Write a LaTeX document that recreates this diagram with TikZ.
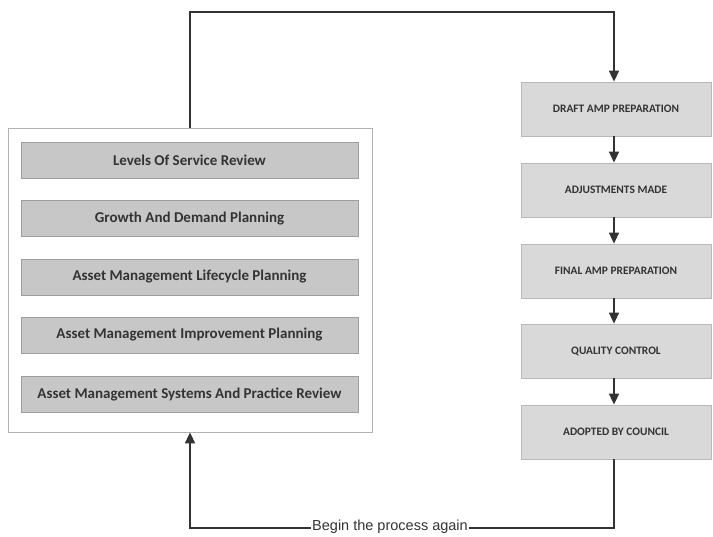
\documentclass[tikz,border=0pt]{standalone}
\usepackage{fontspec}
\setmainfont{Carlito}
\newfontfamily\labelfont{Liberation Sans}
\usetikzlibrary{arrows.meta,positioning}
\begin{document}
\begin{tikzpicture}[x=1pt,y=-1pt,
  planbox/.style={draw=black!38, fill=black!22, line width=0.8pt,
    minimum width=337pt, minimum height=36pt, inner sep=0pt,
    font=\fontsize{15}{17}\selectfont\bfseries, text=black!80},
  stagebox/.style={draw=black!28, fill=black!15, line width=0.8pt,
    minimum width=190pt, minimum height=54pt, inner sep=0pt,
    font=\fontsize{11.4}{13}\selectfont\bfseries, text=black!80},
  flow/.style={line width=1.6pt, black!80},
  tip/.style={-{Triangle[width=10pt,length=11pt]}}]
\useasboundingbox (0,0) rectangle (713,537);

% group of planning activities
\node[draw=black!30, line width=0.8pt, minimum width=364pt, minimum height=304pt,
  inner sep=0pt] (group) at (190,280) {};
\node[planbox] (los) at (189.5,160) {Levels Of Service Review};
\node[planbox] (gdp) at (189.5,218.5) {Growth And Demand Planning};
\node[planbox] (lcp) at (189.5,277) {Asset Management Lifecycle Planning};
\node[planbox] (imp) at (189.5,335) {Asset Management Improvement Planning};
\node[planbox] (spr) at (189.5,394) {Asset Management Systems And Practice Review};

% plan preparation stages
\node[stagebox] (draft) at (616,109) {DRAFT AMP PREPARATION};
\node[stagebox] (adj)   at (616,190) {ADJUSTMENTS MADE};
\node[stagebox] (final) at (616,271) {FINAL AMP PREPARATION};
\node[stagebox] (qc)    at (616,351) {QUALITY CONTROL};
\node[stagebox] (adopt) at (616,432) {ADOPTED BY COUNCIL};

\coordinate (topL) at (190,12);
\coordinate (topR) at (614,12);
\coordinate (botR) at (614,528);
\coordinate (botL) at (190,528);

\draw[flow,tip] (group.north) -- (topL) -- (topR) -- (draft.north -| topR);
\foreach \a/\b in {draft/adj, adj/final, final/qc, qc/adopt}
  \draw[flow,tip] (\a.south -| topR) -- (\b.north -| topR);
\draw[flow,tip] (adopt.south -| botR) -- (botR) -- (botL) -- (group.south);

\node[fill=white, inner sep=1pt, font=\labelfont\fontsize{14.5}{16}\selectfont,
  text=black!80] (again) at (390,527) {Begin the process again};
\end{tikzpicture}
\end{document}
